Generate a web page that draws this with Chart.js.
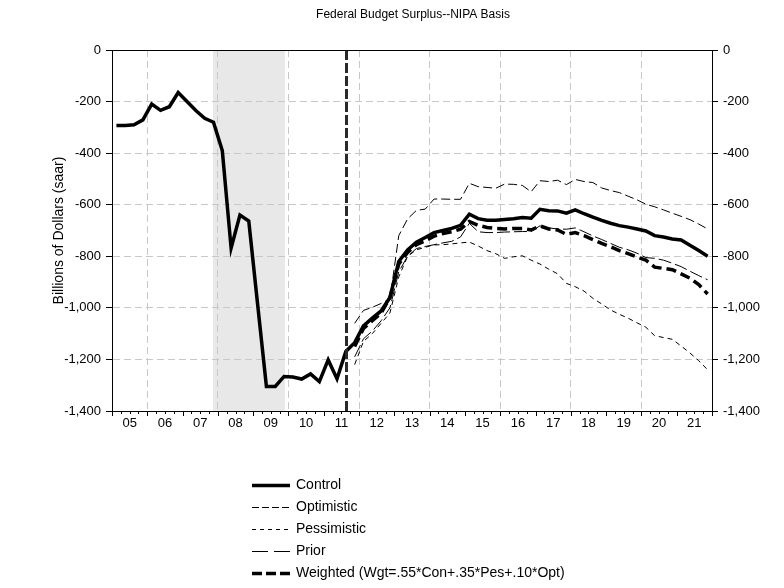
<!DOCTYPE html>
<html>
<head>
<meta charset="utf-8">
<script src="https://cdn.jsdelivr.net/npm/chart.js@4"></script>
<style>
html, body { margin: 0; padding: 0; background: #fff; }
</style>
</head>
<body>
<canvas id="myChart" width="784" height="588"></canvas>
<script>
// quarterly, 2005Q1 .. 2021Q4 (billions of dollars, saar)
const years = [2005,2006,2007,2008,2009,2010,2011,2012,2013,2014,2015,2016,2017,2018,2019,2020,2021]

const control = [
    -293,-293,-290,-271,
    -210,-234,-220,-165,
    -200,-235,-265,-280,
    -390,-768,-640,-663,
    -985,-1305,-1305,-1266,
    -1268,-1276,-1256,-1286,
    -1202,-1275,-1169,-1135,
    -1070,-1040,-1012,-960,
    -820,-775,-745,-727,
    -708,-700,-692,-680,
    -637,-654,-660,-660,
    -657,-654,-650,-652,
    -618,-623,-624,-633,
    -620,-635,-648,-661,
    -672,-681,-687,-694,
    -702,-720,-725,-733,
    -737,-757,-778,-800
]
const optimistic = [
    null,null,null,null, null,null,null,null, null,null,null,null,
    null,null,null,null, null,null,null,null, null,null,null,null,
    null,null,null,-1060,
    -1010,-998,-983,-965,
    -720,-655,-622,-617,
    -578,-578,-579,-579,
    -517,-530,-533,-536,
    -520,-521,-525,-550,
    -507,-510,-505,-522,
    -502,-510,-514,-535,
    -545,-553,-567,-581,
    -598,-608,-620,-633,
    -645,-658,-675,-694
]
const pessimistic = [
    null,null,null,null, null,null,null,null, null,null,null,null,
    null,null,null,null, null,null,null,null, null,null,null,null,
    null,null,null,-1220,
    -1130,-1100,-1060,-1020,
    -880,-800,-775,-765,
    -756,-755,-752,-748,
    -745,-760,-778,-790,
    -808,-802,-798,-815,
    -830,-850,-868,-905,
    -918,-935,-963,-985,
    -1008,-1025,-1040,-1058,
    -1075,-1108,-1115,-1122,
    -1148,-1175,-1205,-1240
]
const prior = [
    null,null,null,null, null,null,null,null, null,null,null,null,
    null,null,null,null, null,null,null,null, null,null,null,null,
    null,null,null,-1190,
    -1120,-1090,-1050,-1000,
    -860,-800,-770,-762,
    -755,-748,-742,-725,
    -672,-705,-708,-708,
    -706,-705,-704,-704,
    -682,-690,-694,-695,
    -690,-705,-721,-735,
    -750,-765,-775,-788,
    -805,-808,-815,-827,
    -840,-858,-875,-891
]
const weighted = [
    null,null,null,null, null,null,null,null, null,null,null,null,
    null,null,null,null, null,null,null,null, null,null,null,null,
    null,null,null,-1150,
    -1080,-1050,-1020,-960,
    -830,-785,-755,-740,
    -722,-712,-705,-695,
    -665,-680,-688,-692,
    -694,-692,-692,-698,
    -682,-694,-698,-715,
    -708,-720,-735,-750,
    -763,-778,-790,-803,
    -815,-842,-847,-852,
    -868,-885,-910,-946
]

const yTicks = [0,-200,-400,-600,-800,-1000,-1200,-1400]
const recession = [2007.86, 2009.9]
const forecastStart = 2011.62

// quarter midpoints for the x positions
const quarters = []
years.forEach(y => { for (let q = 0; q < 4; q++) quarters.push(y + q * 0.25 + 0.125) })

const FONT = "'Liberation Sans Narrow', 'Liberation Sans', Arial, sans-serif"
Chart.defaults.font.family = FONT
Chart.defaults.color = '#000'

const toPoints = arr => arr.map((v, i) => ({x: quarters[i], y: v}))

const shading = {
    id: 'shading',
    beforeDraw(chart) {
        const {ctx, chartArea} = chart
        const x = chart.scales.x
        ctx.save()
        ctx.fillStyle = '#e8e8e8'
        const x1 = x.getPixelForValue(recession[0])
        const x2 = x.getPixelForValue(recession[1])
        ctx.fillRect(x1, chartArea.top, x2 - x1, chartArea.bottom - chartArea.top)
        ctx.restore()
    }
}

const decorations = {
    id: 'decorations',
    afterDatasetsDraw(chart) {
        const {ctx, chartArea} = chart
        const x = chart.scales.x
        // forecast marker
        const fx = Math.round(x.getPixelForValue(forecastStart)) + 0.5
        ctx.save()
        ctx.strokeStyle = '#2a2a2a'
        ctx.lineWidth = 3
        ctx.setLineDash([10, 3])
        ctx.beginPath()
        ctx.moveTo(fx, chartArea.top)
        ctx.lineTo(fx, chartArea.bottom)
        ctx.stroke()
        ctx.restore()
    },
    afterDraw(chart) {
        const {ctx, chartArea} = chart
        const x = chart.scales.x
        ctx.save()
        ctx.strokeStyle = '#000'
        ctx.lineWidth = 1
        // top frame line
        ctx.beginPath()
        ctx.moveTo(chartArea.left, chartArea.top + 0.5)
        ctx.lineTo(chartArea.right, chartArea.top + 0.5)
        ctx.stroke()
        // quarterly tick marks, longer at year boundaries
        ctx.beginPath()
        for (let t = 2005; t <= 2022.001; t += 0.25) {
            const px = Math.round(x.getPixelForValue(t)) + 0.5
            const len = Math.abs(t - Math.round(t)) < 0.01 ? 5 : 3
            ctx.moveTo(px, chartArea.bottom)
            ctx.lineTo(px, chartArea.bottom + len)
        }
        ctx.stroke()

        // legend
        const left = 252, lineEnd = 290, textX = 296
        let rowY = 485
        ctx.font = '14px ' + FONT
        ctx.textBaseline = 'middle'
        ctx.fillStyle = '#000'
        chart.data.datasets.forEach(ds => {
            ctx.strokeStyle = '#000'
            ctx.lineWidth = ds.borderWidth
            ctx.setLineDash(ds.legendDash || [])
            ctx.beginPath()
            ctx.moveTo(left, rowY + 0.5)
            ctx.lineTo(lineEnd, rowY + 0.5)
            ctx.stroke()
            ctx.fillText(ds.label, textX, rowY)
            rowY += 22
        })
        ctx.restore()
    }
}

const ctx = document.getElementById('myChart')

new Chart(ctx, {
    type: 'line',
    data: {
        datasets: [{
            label: 'Control',
            data: toPoints(control),
            borderColor: '#000',
            borderWidth: 3.5,
            legendDash: []
        }, {
            label: 'Optimistic',
            data: toPoints(optimistic),
            borderColor: '#000',
            borderWidth: 1,
            borderDash: [9, 4],
            legendDash: [7, 3]
        }, {
            label: 'Pessimistic',
            data: toPoints(pessimistic),
            borderColor: '#000',
            borderWidth: 1,
            borderDash: [5, 4],
            legendDash: [4, 4]
        }, {
            label: 'Prior',
            data: toPoints(prior),
            borderColor: '#000',
            borderWidth: 1,
            borderDash: [13, 4],
            legendDash: [16, 6]
        }, {
            label: 'Weighted (Wgt=.55*Con+.35*Pes+.10*Opt)',
            data: toPoints(weighted),
            borderColor: '#000',
            borderWidth: 3.5,
            borderDash: [10, 5],
            legendDash: [10, 4]
        }]
    },
    options: {
        responsive: false,
        animation: false,
        layout: { padding: { left: 42, top: 0, right: 0, bottom: 140 } },
        elements: { point: { radius: 0 }, line: { tension: 0 } },
        plugins: {
            legend: { display: false },
            tooltip: { enabled: false },
            title: {
                display: true,
                text: 'Federal Budget Surplus--NIPA Basis',
                font: { size: 12, weight: 'normal' },
                color: '#000',
                padding: { top: 7, bottom: 28.6 }
            }
        },
        scales: {
            x: {
                type: 'linear',
                min: 2005,
                max: 2022,
                afterBuildTicks: s => {
                    const t = []
                    for (let v = 2005; v <= 2022.001; v += 0.25) t.push({value: Math.round(v * 4) / 4})
                    s.ticks = t
                },
                afterFit: s => { s.height = 37 },
                ticks: {
                    autoSkip: false,
                    maxRotation: 0,
                    padding: 5,
                    font: { size: 13 },
                    callback: v => {
                        const f = Math.round((v - Math.floor(v)) * 4)
                        return f === 2 ? String(Math.floor(v)).slice(2) : ''
                    }
                },
                grid: {
                    drawTicks: false,
                    lineWidth: 1,
                    color: c => {
                        const v = c.tick ? c.tick.value : 0
                        return (Number.isInteger(v) && v % 2 === 0 && v > 2005 && v < 2022) ? '#c8c8c8' : 'rgba(0,0,0,0)'
                    }
                },
                border: { color: '#000', width: 1, dash: [7, 4] }
            },
            y: {
                type: 'linear',
                position: 'left',
                min: -1400,
                max: 0,
                afterBuildTicks: s => { s.ticks = yTicks.map(v => ({value: v})) },
                afterFit: s => { s.width = 70 },
                ticks: {
                    padding: 5,
                    font: { size: 13 },
                    callback: v => v.toLocaleString('en-US')
                },
                grid: {
                    tickLength: 6,
                    tickColor: '#000',
                    color: c => (c.tick && (c.tick.value === 0 || c.tick.value === -1400)) ? 'rgba(0,0,0,0)' : '#c8c8c8'
                },
                border: { color: '#000', width: 1, dash: [7, 4] },
                title: {
                    display: true,
                    text: 'Billions of Dollars (saar)',
                    font: { size: 14 },
                    color: '#000',
                    padding: { top: 9, bottom: 0 }
                }
            },
            y2: {
                type: 'linear',
                position: 'right',
                min: -1400,
                max: 0,
                afterBuildTicks: s => { s.ticks = yTicks.map(v => ({value: v})) },
                afterFit: s => { s.width = 72 },
                ticks: {
                    padding: 5,
                    font: { size: 13 },
                    callback: v => v.toLocaleString('en-US')
                },
                grid: {
                    drawOnChartArea: false,
                    tickLength: 6,
                    tickColor: '#000'
                },
                border: { color: '#000', width: 1 }
            }
        }
    },
    plugins: [shading, decorations]
})
</script>
</body>
</html>
